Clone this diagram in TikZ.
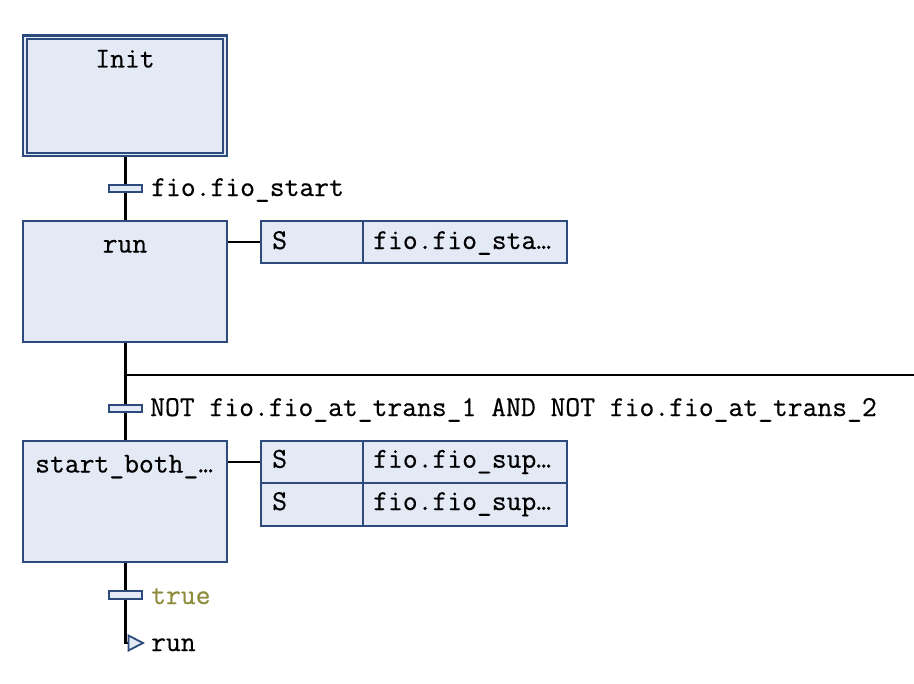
\documentclass[tikz,border=0pt]{standalone}
\usepackage{fontspec}
\newfontfamily\sfcmono[FakeBold=0.5]{Latin Modern Mono}
\definecolor{boxfill}{HTML}{E3E9F5}
\definecolor{boxline}{HTML}{2D4A7D}
\definecolor{truecol}{HTML}{8C8C3C}
\begin{document}
\begin{tikzpicture}[x=1bp,y=-1bp,
  stepbox/.style={rectangle, draw=boxline, fill=boxfill, line width=2.2bp, minimum width=203.4bp, minimum height=120.6bp, inner sep=0pt},
  innerbox/.style={rectangle, draw=boxline, line width=2.2bp, minimum width=196.3bp, minimum height=114.3bp, inner sep=0pt},
  transbar/.style={rectangle, draw=boxline, fill=boxfill, line width=2bp, minimum width=33bp, minimum height=7.5bp, inner sep=0pt},
  actcell/.style={rectangle, draw=boxline, fill=boxfill, line width=2.2bp, inner sep=0pt, minimum height=42.3bp},
  conn/.style={line width=2.2bp, black},
  txt/.style={font=\sfcmono\fontsize{28.9}{33}\selectfont, inner sep=0pt, anchor=base west},
  ctxt/.style={txt, anchor=base}]
\useasboundingbox (0,0) rectangle (914,684);
% steps
\node[stepbox] (init) at (125,95.9) {};
\node[innerbox] (initin) at (125,95.9) {};
\node[ctxt] (initlbl) at (125,67.5) {Init};
\node[stepbox] (run) at (125,281.5) {};
\node[ctxt] (runlbl) at (125,252.5) {run};
\node[stepbox] (start) at (125,501.5) {};
\node[txt] (startlbl) at (35,472.5) {start\_both\_…};
% transitions
\node[transbar] (t1) at (125.5,188.7) {};
\node[txt] (t1lbl) at (151,196) {fio.fio\_start};
\node[transbar] (t2) at (125.5,408.3) {};
\node[txt] (t2lbl) at (150,416) {NOT fio.fio\_at\_trans\_1 AND NOT fio.fio\_at\_trans\_2};
\node[transbar] (t3) at (125.5,595) {};
\node[txt, text=truecol] (t3lbl) at (151,604) {true};
% action boxes
\node[actcell, minimum width=102bp] (a1s) at (312,242.2) {};
\node[actcell, minimum width=203.4bp] (a1v) at (465,242.2) {};
\node[txt] (a1slbl) at (272,249) {S};
\node[txt] (a1vlbl) at (373,249) {fio.fio\_sta…};
\node[actcell, minimum width=102bp] (a2s) at (312,462.2) {};
\node[actcell, minimum width=203.4bp] (a2v) at (465,462.2) {};
\node[txt] (a2slbl) at (272,467.7) {S};
\node[txt] (a2vlbl) at (373,467.7) {fio.fio\_sup…};
\node[actcell, minimum width=102bp] (a3s) at (312,504.5) {};
\node[actcell, minimum width=203.4bp] (a3v) at (465,504.5) {};
\node[txt] (a3slbl) at (272,510) {S};
\node[txt] (a3vlbl) at (373,510) {fio.fio\_sup…};
% connectors
\draw[conn] (init.south -| t1) -- (t1.north);
\draw[conn] (t1.south) -- (run.north -| t1);
\draw[conn] (run.south -| t2) -- (t2.north);
\draw[conn] (t2.south) -- (start.north -| t2);
\draw[conn] (start.south -| t3) -- (t3.north);
\coordinate (brL) at (125.5,375);
\coordinate (brR) at (914,375);
\draw[conn] (brL) -- (brR);
\draw[conn] (run.east |- a1s.west) -- (a1s.west);
\draw[conn] (start.east |- a2s.west) -- (a2s.west);
% jump
\coordinate (jcorner) at (125.5,643);
\coordinate (jtip) at (128.5,643);
\draw[conn] (t3.south) -- (jcorner) -- (jtip);
\draw[boxline, fill=boxfill, line width=1.8bp] (128.5,635.5) -- (143,643) -- (128.5,650.5) -- cycle;
\node[txt] (jlbl) at (151,651) {run};
\end{tikzpicture}
\end{document}
